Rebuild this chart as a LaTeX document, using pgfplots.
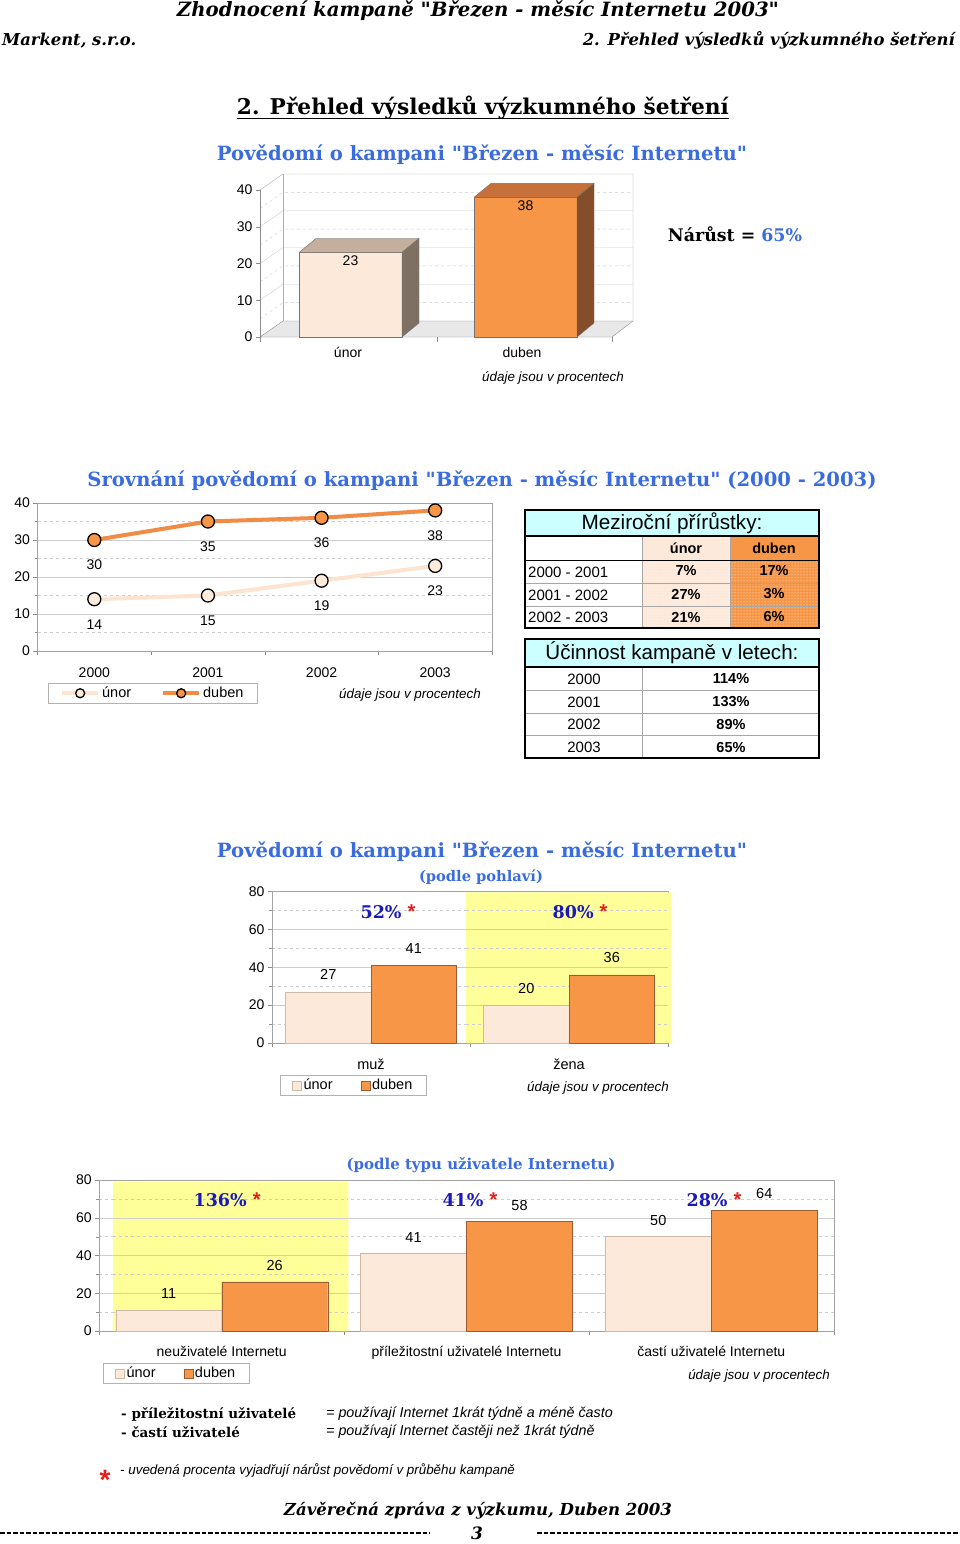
\documentclass[border=0pt]{standalone}
\usepackage{fontspec}
\setmainfont{Liberation Sans}
\newfontfamily\slab{DejaVu Serif}
\usepackage{graphicx}
\usepackage{pgfplots}
\pgfplotsset{compat=1.18}
\usetikzlibrary{patterns}
\newcommand\fs[1]{\fontsize{#1}{#1}\selectfont}
\definecolor{peach}{RGB}{253,233,217}
\definecolor{peachline}{RGB}{252,228,208}
\definecolor{peachfill}{RGB}{253,235,220}
\definecolor{peachdraw}{RGB}{205,185,165}
\definecolor{orng}{RGB}{247,150,70}
\definecolor{orngline}{RGB}{240,140,70}
\definecolor{orngdraw}{RGB}{160,90,50}
\definecolor{ttlblue}{RGB}{58,108,224}
\definecolor{pctblue}{RGB}{26,26,184}
\definecolor{starred}{RGB}{224,32,27}
\definecolor{hlyellow}{RGB}{255,255,153}
\definecolor{tcyan}{RGB}{204,255,255}
\definecolor{gridc}{RGB}{205,205,205}
\definecolor{axc}{RGB}{140,140,140}
\pgfplotsset{
  sqlegend/.style={legend image code/.code={\draw[##1] (0pt,-4.5pt) rectangle (9pt,4.5pt);}},
  every axis/.append style={/pgf/number format/assume math mode=true},
}
\begin{document}
\begin{tikzpicture}
\path[use as bounding box, fill=white] (0pt,0pt) rectangle (960pt,-1544pt);

% ---------------- texts and tables ----------------
\begin{scope}[x=1pt,y=-1pt,every node/.style={inner sep=0pt}]
\node[anchor=base] at (478,16.7) {\resizebox{602pt}{!}{\slab\bfseries\itshape Zhodnocení kampaně "Březen - měsíc Internetu 2003"}};
\node[anchor=base west] at (2,45.7) {\resizebox{134pt}{!}{\slab\bfseries\itshape Markent, s.r.o.}};
\node[anchor=base east] at (955,45.7) {\resizebox{372pt}{!}{\slab\bfseries\itshape 2. Přehled výsledků výzkumného šetření}};
\node[anchor=base] at (483,115) {\resizebox{492pt}{!}{\slab\bfseries 2. Přehled výsledků výzkumného šetření}};
\draw[line width=1.4pt] (237,118.8) -- (729,118.8);

\node at (482,155) {\resizebox{530pt}{!}{\slab\bfseries\color{ttlblue}Povědomí o kampani "Březen - měsíc Internetu"}};
\node at (735,234) {\resizebox{134pt}{!}{\slab\bfseries Nárůst = \color{ttlblue}65\%}};
\node at (553,378) {\fs{13.4}\itshape údaje jsou v procentech};

\node at (482,481) {\resizebox{789pt}{!}{\slab\bfseries\color{ttlblue}Srovnání povědomí o kampani "Březen - měsíc Internetu" (2000 - 2003)}};
\node at (410,695) {\fs{13.4}\itshape údaje jsou v procentech};

% table 1
\fill[tcyan] (525,510) rectangle (819,536);
\fill[peach] (642,536) rectangle (730,628);
\fill[orng] (730,536) rectangle (819,628);
\fill[pattern=dots, pattern color=white] (642,560) rectangle (819,628);
\draw[gray!70] (525,583)--(819,583) (525,606)--(819,606);
\draw[gray!70] (642,536)--(642,628) (730,536)--(730,628);
\draw[line width=0.8pt] (525,560)--(819,560);
\draw[line width=1.6pt] (525,536)--(819,536);
\draw[line width=2pt] (525,510) rectangle (819,628);
\node at (672,523) {\resizebox{181pt}{!}{Meziroční přírůstky:}};
\node at (686,548) {\fs{14.5}\bfseries únor};
\node at (774,548) {\fs{14.5}\bfseries duben};
\node[anchor=west] at (528,572) {\fs{15}2000 - 2001};
\node[anchor=west] at (528,595) {\fs{15}2001 - 2002};
\node[anchor=west] at (528,617) {\fs{15}2002 - 2003};
\node at (686,571) {\fs{14.5}\bfseries 7\%};
\node at (686,594) {\fs{14.5}\bfseries 27\%};
\node at (686,617) {\fs{14.5}\bfseries 21\%};
\node at (774,571) {\fs{14.5}\bfseries 17\%};
\node at (774,594) {\fs{14.5}\bfseries 3\%};
\node at (774,617) {\fs{14.5}\bfseries 6\%};

% table 2
\fill[tcyan] (525,639) rectangle (819,667);
\draw[gray!70] (525,690.5)--(819,690.5) (525,713)--(819,713) (525,735.5)--(819,735.5);
\draw[gray!70] (642,667)--(642,758);
\draw[line width=1.6pt] (525,667)--(819,667);
\draw[line width=2pt] (525,639) rectangle (819,758);
\node at (672,653) {\resizebox{253pt}{!}{Účinnost kampaně v letech:}};
\node at (584,679) {\fs{15}2000};
\node at (584,702) {\fs{15}2001};
\node at (584,724.5) {\fs{15}2002};
\node at (584,747) {\fs{15}2003};
\node at (731,679) {\fs{14.5}\bfseries 114\%};
\node at (731,702) {\fs{14.5}\bfseries 133\%};
\node at (731,724.5) {\fs{14.5}\bfseries 89\%};
\node at (731,747) {\fs{14.5}\bfseries 65\%};

\node at (482,852) {\resizebox{530pt}{!}{\slab\bfseries\color{ttlblue}Povědomí o kampani "Březen - měsíc Internetu"}};
\node at (481,877) {\resizebox{124pt}{!}{\slab\bfseries\color{ttlblue}(podle pohlaví)}};
\node at (598,1088) {\fs{13.4}\itshape údaje jsou v procentech};

\node at (481,1165) {\resizebox{269pt}{!}{\slab\bfseries\color{ttlblue}(podle typu uživatele Internetu)}};
\node[anchor=east] at (830,1376) {\fs{13.4}\itshape údaje jsou v procentech};

\node[anchor=west] at (121,1414) {\slab\bfseries\fs{13.5}- příležitostní uživatelé};
\node[anchor=west] at (121,1432) {\slab\bfseries\fs{13.5}- častí uživatelé};
\node[anchor=west] at (326,1414) {\fs{14.3}\itshape = používají Internet 1krát týdně a méně často};
\node[anchor=west] at (326,1432) {\fs{14.3}\itshape = používají Internet častěji než 1krát týdně};
\node at (105,1480) {\fs{28}\bfseries\color{starred}*};
\node[anchor=west] at (120,1470) {\fs{13.4}\itshape - uvedená procenta vyjadřují nárůst povědomí v průběhu kampaně};
\node at (478,1511) {\resizebox{388pt}{!}{\slab\bfseries\itshape Závěrečná zpráva z výzkumu, Duben 2003}};
\draw[dash pattern=on 4.5pt off 2pt, line width=1.6pt] (0,1533) -- (430,1533);
\node at (477,1533) {\slab\bfseries\itshape\fs{17}3};
\draw[dash pattern=on 4.5pt off 2pt, line width=1.6pt] (537,1533) -- (960,1533);
\end{scope}

% ---------------- chart 1: 3D bars ----------------
\begin{axis}[
  at={(260pt,-337pt)}, anchor=south west,
  scale only axis, width=390pt, height=169.05pt,
  xmin=260, xmax=650, ymin=0, ymax=46,
  axis line style={draw=none},
  xtick=\empty,
  ytick={0,10,20,30,40},
  ytick pos=left, tick align=outside,
  major tick length=4pt,
  tick style={axc},
  yticklabel style={font=\fs{14}},
  clip=false,
]
\addplot[fill=gray!18, draw=axc] coordinates {(260,0)(612,0)(633,4.354)(283,4.354)(260,0)};
\addplot[gridc] coordinates {(260,10)(283,14.354)(633,14.354)};
\addplot[gridc] coordinates {(260,20)(283,24.354)(633,24.354)};
\addplot[gridc] coordinates {(260,30)(283,34.354)(633,34.354)};
\addplot[gridc, dashed] coordinates {(260,5)(283,9.354)(633,9.354)};
\addplot[gridc, dashed] coordinates {(260,15)(283,19.354)(633,19.354)};
\addplot[gridc, dashed] coordinates {(260,25)(283,29.354)(633,29.354)};
\addplot[gridc, dashed] coordinates {(260,35)(283,39.354)(633,39.354)};
\addplot[axc!70] coordinates {(260,40)(283,44.354)(633,44.354)(633,4.354)};
\addplot[axc!70] coordinates {(283,4.354)(283,44.354)};
\addplot[axc] coordinates {(260,0)(260,40)};
\addplot[axc] coordinates {(260,0)(260,-1.4)};
\addplot[axc] coordinates {(437,0)(437,-1.4)};
\addplot[axc] coordinates {(612,0)(612,-1.4)};
% unor
\addplot[fill=peach, draw=black!55] coordinates {(299,0)(402,0)(402,23)(299,23)(299,0)};
\addplot[fill={rgb,255:red,196;green,174;blue,156}, draw=black!55] coordinates {(299,23)(316,26.81)(419,26.81)(402,23)(299,23)};
\addplot[fill={rgb,255:red,126;green,113;blue,100}, draw=black!55] coordinates {(402,0)(419,3.81)(419,26.81)(402,23)(402,0)};
% duben
\addplot[fill=orng, draw=black!55] coordinates {(474,0)(577,0)(577,38)(474,38)(474,0)};
\addplot[fill={rgb,255:red,199;green,112;blue,58}, draw=black!55] coordinates {(474,38)(491,41.81)(594,41.81)(577,38)(474,38)};
\addplot[fill={rgb,255:red,132;green,78;blue,42}, draw=black!55] coordinates {(577,0)(594,3.81)(594,41.81)(577,38)(577,0)};
\node at (axis cs:350.5,20.7) {\fs{14}23};
\node at (axis cs:525.5,35.6) {\fs{14}38};
\node at (axis cs:348,-4.1) {\fs{14}únor};
\node at (axis cs:522,-4.1) {\fs{14}duben};
\end{axis}

% ---------------- chart 2: lines ----------------
\begin{axis}[
  at={(37.5pt,-651pt)}, anchor=south west,
  scale only axis, width=454.5pt, height=148pt,
  xmin=-0.5, xmax=3.5, ymin=0, ymax=40,
  ytick={0,10,20,30,40}, minor ytick={5,15,25,35},
  ymajorgrids, yminorgrids,
  major grid style={gridc},
  minor grid style={gridc, dashed},
  xtick={-0.5,0.5,1.5,2.5,3.5}, xticklabels={},
  extra x ticks={0,1,2,3}, extra x tick labels={2000,2001,2002,2003},
  extra x tick style={major tick length=0pt, grid=none},
  tick align=outside, major tick length=4pt,
  xtick pos=bottom, ytick pos=left,
  tick style={axc},
  axis line style={axc!80},
  xticklabel style={font=\fs{14}, yshift=-13pt},
  yticklabel style={font=\fs{14}},
  clip=false,
  legend columns=2,
  legend style={at={(0.023,-0.216)}, anchor=north west, draw=gray!60,
    font=\fs{14.5}, inner ysep=2pt, inner xsep=12pt,
    /tikz/every even column/.append style={column sep=28pt}},
  legend image code/.code={
    \draw[#1, mark=none] (0pt,0pt) -- (36pt,0pt);
    \draw[#1, mark size=4.5pt] plot[only marks] coordinates {(18pt,0pt)};
  },
]
\addplot[peachline, line width=4pt, mark=*, mark size=6.5pt,
  mark options={fill=peachfill, draw=black, line width=1.3pt}]
  coordinates {(0,14)(1,15)(2,19)(3,23)};
\addlegendentry{únor}
\addplot[orngline, line width=4pt, mark=*, mark size=6.5pt,
  mark options={fill=orng, draw=black, line width=1.3pt}]
  coordinates {(0,30)(1,35)(2,36)(3,38)};
\addlegendentry{duben}
\node[font=\fs{14}] at (axis cs:0,30) [yshift=-25pt] {30};
\node[font=\fs{14}] at (axis cs:1,35) [yshift=-25pt] {35};
\node[font=\fs{14}] at (axis cs:2,36) [yshift=-25pt] {36};
\node[font=\fs{14}] at (axis cs:3,38) [yshift=-25pt] {38};
\node[font=\fs{14}] at (axis cs:0,14) [yshift=-25pt] {14};
\node[font=\fs{14}] at (axis cs:1,15) [yshift=-25pt] {15};
\node[font=\fs{14}] at (axis cs:2,19) [yshift=-25pt] {19};
\node[font=\fs{14}] at (axis cs:3,23) [yshift=-25pt] {23};
\end{axis}

% ---------------- chart 3: by gender ----------------
\begin{axis}[
  at={(272pt,-1043pt)}, anchor=south west,
  scale only axis, width=396pt, height=151.5pt,
  xmin=-0.5, xmax=1.5, ymin=0, ymax=80,
  ytick={0,20,40,60,80}, minor ytick={10,30,50,70},
  ymajorgrids, yminorgrids,
  major grid style={gridc},
  minor grid style={gridc, dashed},
  xtick={-0.5,0.5,1.5}, xticklabels={},
  extra x ticks={0,1}, extra x tick labels={muž,žena},
  extra x tick style={major tick length=0pt, grid=none},
  tick align=outside, major tick length=4pt,
  xtick pos=bottom, ytick pos=left,
  tick style={axc},
  axis line style={axc!80},
  xticklabel style={font=\fs{14.5}, yshift=-12pt},
  yticklabel style={font=\fs{14}},
  clip=false,
  legend columns=2,
  legend style={at={(0.0202,-0.211)}, anchor=north west, draw=gray!60,
    font=\fs{14.5}, inner ysep=2pt, inner xsep=12pt,
    /tikz/every even column/.append style={column sep=26pt}},
]
\addplot[fill=hlyellow, draw=none, forget plot] coordinates {(0.48,0)(1.515,0)(1.515,79.5)(0.48,79.5)(0.48,0)};
\addplot[gridc, forget plot] coordinates {(0.48,20)(1.5,20)};
\addplot[gridc, forget plot] coordinates {(0.48,40)(1.5,40)};
\addplot[gridc, forget plot] coordinates {(0.48,60)(1.5,60)};
\addplot[gridc, dashed, forget plot] coordinates {(0.48,10)(1.5,10)};
\addplot[gridc, dashed, forget plot] coordinates {(0.48,30)(1.5,30)};
\addplot[gridc, dashed, forget plot] coordinates {(0.48,50)(1.5,50)};
\addplot[gridc, dashed, forget plot] coordinates {(0.48,70)(1.5,70)};
\addplot[ybar, bar width=85.5pt, bar shift=-42.75pt, fill=peach, draw=peachdraw, sqlegend] coordinates {(0,27)(1,20)};
\addlegendentry{únor}
\addplot[ybar, bar width=85.5pt, bar shift=42.75pt, fill=orng, draw=orngdraw, sqlegend] coordinates {(0,41)(1,36)};
\addlegendentry{duben}
\node[font=\fs{14.5}] at (axis cs:0,27) [xshift=-42.75pt, yshift=17pt] {27};
\node[font=\fs{14.5}] at (axis cs:0,41) [xshift=42.75pt, yshift=17pt] {41};
\node[font=\fs{14.5}] at (axis cs:1,20) [xshift=-42.75pt, yshift=17pt] {20};
\node[font=\fs{14.5}] at (axis cs:1,36) [xshift=42.75pt, yshift=17pt] {36};
\node at (axis cs:0.086,69.5) {\slab\bfseries\fs{17.5}\color{pctblue}52\% \fs{20}\normalfont\bfseries\color{starred}*};
\node at (axis cs:1.056,69.5) {\slab\bfseries\fs{17.5}\color{pctblue}80\% \fs{20}\normalfont\bfseries\color{starred}*};
\end{axis}

% ---------------- chart 4: by user type ----------------
\begin{axis}[
  at={(99.3pt,-1331pt)}, anchor=south west,
  scale only axis, width=734.4pt, height=151pt,
  xmin=-0.5, xmax=2.5, ymin=0, ymax=80,
  ytick={0,20,40,60,80}, minor ytick={10,30,50,70},
  ymajorgrids, yminorgrids,
  major grid style={gridc},
  minor grid style={gridc, dashed},
  xtick={-0.5,0.5,1.5,2.5}, xticklabels={},
  extra x ticks={0,1,2}, extra x tick labels={neuživatelé Internetu,příležitostní uživatelé Internetu,častí uživatelé Internetu},
  extra x tick style={major tick length=0pt, grid=none},
  tick align=outside, major tick length=4pt,
  xtick pos=bottom, ytick pos=left,
  tick style={axc},
  axis line style={axc!80},
  xticklabel style={font=\fs{14}, yshift=-12pt},
  yticklabel style={font=\fs{14}},
  clip=false,
  legend columns=2,
  legend style={at={(0.005,-0.212)}, anchor=north west, draw=gray!60,
    font=\fs{14.5}, inner ysep=2pt, inner xsep=12pt,
    /tikz/every even column/.append style={column sep=26pt}},
]
\addplot[fill=hlyellow, draw=none, forget plot] coordinates {(-0.445,0)(0.517,0)(0.517,79.1)(-0.445,79.1)(-0.445,0)};
\addplot[gridc, forget plot] coordinates {(-0.445,20)(0.517,20)};
\addplot[gridc, forget plot] coordinates {(-0.445,40)(0.517,40)};
\addplot[gridc, forget plot] coordinates {(-0.445,60)(0.517,60)};
\addplot[gridc, dashed, forget plot] coordinates {(-0.445,10)(0.517,10)};
\addplot[gridc, dashed, forget plot] coordinates {(-0.445,30)(0.517,30)};
\addplot[gridc, dashed, forget plot] coordinates {(-0.445,50)(0.517,50)};
\addplot[gridc, dashed, forget plot] coordinates {(-0.445,70)(0.517,70)};
\addplot[ybar, bar width=106pt, bar shift=-53pt, fill=peach, draw=peachdraw, sqlegend] coordinates {(0,11)(1,41)(2,50)};
\addlegendentry{únor}
\addplot[ybar, bar width=106pt, bar shift=53pt, fill=orng, draw=orngdraw, sqlegend] coordinates {(0,26)(1,58)(2,64)};
\addlegendentry{duben}
\node[font=\fs{14.5}] at (axis cs:0,11) [xshift=-53pt, yshift=16.5pt] {11};
\node[font=\fs{14.5}] at (axis cs:1,41) [xshift=-53pt, yshift=16.5pt] {41};
\node[font=\fs{14.5}] at (axis cs:2,50) [xshift=-53pt, yshift=16.5pt] {50};
\node[font=\fs{14.5}] at (axis cs:0,26) [xshift=53pt, yshift=16.5pt] {26};
\node[font=\fs{14.5}] at (axis cs:1,58) [xshift=53pt, yshift=16.5pt] {58};
\node[font=\fs{14.5}] at (axis cs:2,64) [xshift=53pt, yshift=16.5pt] {64};
\node at (axis cs:0.022,69.6) {\slab\bfseries\fs{17.5}\color{pctblue}136\% \fs{20}\normalfont\bfseries\color{starred}*};
\node at (axis cs:1.014,69.6) {\slab\bfseries\fs{17.5}\color{pctblue}41\% \fs{20}\normalfont\bfseries\color{starred}*};
\node at (axis cs:2.011,69.6) {\slab\bfseries\fs{17.5}\color{pctblue}28\% \fs{20}\normalfont\bfseries\color{starred}*};
\end{axis}
\end{tikzpicture}
\end{document}
